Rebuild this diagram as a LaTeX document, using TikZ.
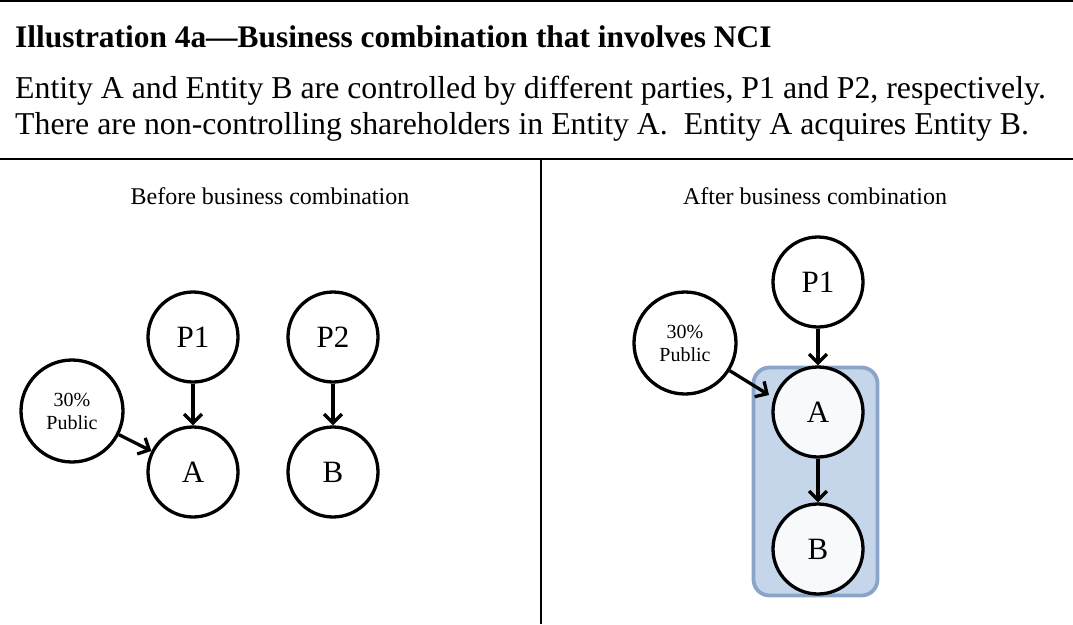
\documentclass[tikz,border=0pt]{standalone}
\usepackage{fontspec}
\setmainfont{Liberation Serif}
\usetikzlibrary{arrows.meta}
\begin{document}
\begin{tikzpicture}[x=1pt,y=-1pt,
  ent/.style={circle,draw=black,line width=3.3pt,minimum size=90pt,inner sep=0pt,font=\fontsize{31}{33}\selectfont,fill=white},
  pub/.style={circle,draw=black,line width=3.3pt,minimum size=102pt,inner sep=0pt,align=center,font=\fontsize{20}{23}\selectfont,fill=white},
  own/.style={line width=3.3pt,-{Straight Barb[length=9pt,width=18pt,line width=3.3pt]}},
  rule/.style={line width=1.5pt},
  hdr/.style={inner sep=0pt,font=\fontsize{31.8}{34}\selectfont},
  sub/.style={anchor=base,inner sep=0pt,font=\fontsize{24}{26}\selectfont}]
\useasboundingbox (0,0) rectangle (1073,624);
% rules
\draw[rule] (0,1) coordinate (t1) -- (1073,1) coordinate (t2);
\draw[rule] (0,159) coordinate (h1) -- (1073,159) coordinate (h2);
\draw[rule] (541,159) coordinate (v1) -- (541,624) coordinate (v2);
% header text
\node[hdr,anchor=base west,font=\fontsize{31.4}{34}\selectfont\bfseries] (title) at (15,47) {Illustration 4a---Business combination that involves NCI};
\node[hdr,anchor=base west] (l1) at (15,98) {Entity A and Entity B are controlled by different parties, P1 and P2, respectively.};
\node[hdr,anchor=base west] (l2) at (15,134) {There are non-controlling shareholders in Entity A.\ \ Entity A acquires Entity B.};
\node[sub] (bh) at (270,204) {Before business combination};
\node[sub] (ah) at (815,204) {After business combination};
% left diagram
\node[ent] (p1) at (193,337) {P1};
\node[ent] (a) at (193,472) {A};
\node[ent] (p2) at (333,337) {P2};
\node[ent] (b) at (333,472) {B};
\node[pub] (pu) at (72,411) {30\%\\Public};
\draw[own] (p1) -- (a);
\draw[own] (p2) -- (b);
\draw[own] (pu) -- (a);
% right diagram
\node[draw={rgb,255:red,138;green,165;blue,200},fill={rgb,255:red,198;green,214;blue,234},line width=3.8pt,rounded corners=16pt,minimum width=124pt,minimum height=228pt,inner sep=0pt] (grp) at (815.5,481.5) {};
\node[ent] (rp1) at (818,282) {P1};
\node[ent,fill={rgb,255:red,248;green,249;blue,251}] (ra) at (818,412) {A};
\node[ent,fill={rgb,255:red,248;green,249;blue,251}] (rb) at (818,549) {B};
\node[pub] (rpu) at (685,343) {30\%\\Public};
\coordinate (tip) at (769,395);
\draw[own] (rpu) -- (tip);
\draw[own] (rp1) -- (ra);
\draw[own] (ra) -- (rb);
\end{tikzpicture}
\end{document}
